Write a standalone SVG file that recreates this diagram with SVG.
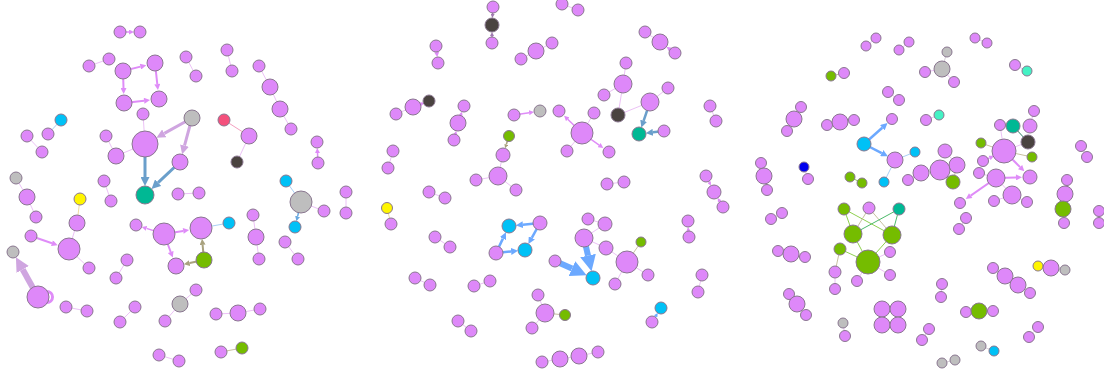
<svg xmlns="http://www.w3.org/2000/svg" width="1104" height="369" viewBox="0 0 1104 369">
<style>
circle{stroke:#8a7790;stroke-width:1}
.p{fill:#de88f9}.g{fill:#bebebe}.c{fill:#00c1f6}.t{fill:#00b894}.d{fill:#4a4340}.gr{fill:#75bc00}.y{fill:#fff500}.r{fill:#f4507c}.b{fill:#0000ee}.a{fill:#44f2c4}
line{fill:none}
.loop{fill:none;stroke:#df8cf8;stroke-width:3}
.e{stroke:#ecc2f6;stroke-width:1}.eb{stroke:#a8d0f5;stroke-width:1}.eo{stroke:#c8c0a0;stroke-width:1}.eg{stroke:#8fd050;stroke-width:1}.ey{stroke:#f0dca0;stroke-width:1}.egr{stroke:#d8d0d8;stroke-width:1}.edg{stroke:#2e7a60;stroke-width:1}.er{stroke:#f4a0c0;stroke-width:1}
.ap7{stroke:#df8cf8;stroke-width:2;marker-end:url(#mp7)}
.ap6{stroke:#df8cf8;stroke-width:1.5;marker-end:url(#mp6)}
.ap5{stroke:#df8cf8;stroke-width:1.5;marker-end:url(#mp5)}
.ap4{stroke:#df8cf8;stroke-width:1.5;marker-end:url(#mp4)}
.ag9{stroke:#cfa5e0;stroke-width:3;marker-end:url(#mg9)}
.ag14{stroke:#cfa5e0;stroke-width:6;marker-end:url(#mg14)}
.as9{stroke:#6a9fcb;stroke-width:3;marker-end:url(#ms9)}
.as7{stroke:#6a9fcb;stroke-width:2.5;marker-end:url(#ms7)}
.ab7{stroke:#6ca9ff;stroke-width:2.5;marker-end:url(#mb7)}
.ab16{stroke:#6ca9ff;stroke-width:6;marker-end:url(#mb16)}
.ab5{stroke:#6aa9e0;stroke-width:1.5;marker-end:url(#mb5)}
.ab4{stroke:#6ca9ff;stroke-width:1.5;marker-end:url(#mb4)}
.ao6{stroke:#a9a27e;stroke-width:2;marker-end:url(#mo6)}
.ao4{stroke:#a9a27e;stroke-width:1.5;marker-end:url(#mo4)}
.ad4{stroke:#a07ab0;stroke-width:1.5;marker-end:url(#md4)}
</style>
<defs>
<marker id="mp7" viewBox="0 0 10 10" refX="0" refY="5" markerWidth="7" markerHeight="6" markerUnits="userSpaceOnUse" orient="auto"><path d="M0,0L10,5L0,10z" fill="#df8cf8"/></marker>
<marker id="mp6" viewBox="0 0 10 10" refX="0" refY="5" markerWidth="6" markerHeight="5" markerUnits="userSpaceOnUse" orient="auto"><path d="M0,0L10,5L0,10z" fill="#df8cf8"/></marker>
<marker id="mp5" viewBox="0 0 10 10" refX="0" refY="5" markerWidth="5" markerHeight="5" markerUnits="userSpaceOnUse" orient="auto"><path d="M0,0L10,5L0,10z" fill="#df8cf8"/></marker>
<marker id="mp4" viewBox="0 0 10 10" refX="0" refY="5" markerWidth="4" markerHeight="4" markerUnits="userSpaceOnUse" orient="auto"><path d="M0,0L10,5L0,10z" fill="#df8cf8"/></marker>
<marker id="mg9" viewBox="0 0 10 10" refX="0" refY="5" markerWidth="9" markerHeight="9" markerUnits="userSpaceOnUse" orient="auto"><path d="M0,0L10,5L0,10z" fill="#cfa5e0"/></marker>
<marker id="mg14" viewBox="0 0 10 10" refX="0" refY="5" markerWidth="14" markerHeight="16" markerUnits="userSpaceOnUse" orient="auto"><path d="M0,0L10,5L0,10z" fill="#cfa5e0"/></marker>
<marker id="ms9" viewBox="0 0 10 10" refX="0" refY="5" markerWidth="9" markerHeight="9" markerUnits="userSpaceOnUse" orient="auto"><path d="M0,0L10,5L0,10z" fill="#6a9fcb"/></marker>
<marker id="ms7" viewBox="0 0 10 10" refX="0" refY="5" markerWidth="7" markerHeight="7" markerUnits="userSpaceOnUse" orient="auto"><path d="M0,0L10,5L0,10z" fill="#6a9fcb"/></marker>
<marker id="mb7" viewBox="0 0 10 10" refX="0" refY="5" markerWidth="7" markerHeight="7" markerUnits="userSpaceOnUse" orient="auto"><path d="M0,0L10,5L0,10z" fill="#6ca9ff"/></marker>
<marker id="mb16" viewBox="0 0 10 10" refX="0" refY="5" markerWidth="16" markerHeight="16" markerUnits="userSpaceOnUse" orient="auto"><path d="M0,0L10,5L0,10z" fill="#6ca9ff"/></marker>
<marker id="mb5" viewBox="0 0 10 10" refX="0" refY="5" markerWidth="5" markerHeight="5" markerUnits="userSpaceOnUse" orient="auto"><path d="M0,0L10,5L0,10z" fill="#6aa9e0"/></marker>
<marker id="mb4" viewBox="0 0 10 10" refX="0" refY="5" markerWidth="4" markerHeight="4" markerUnits="userSpaceOnUse" orient="auto"><path d="M0,0L10,5L0,10z" fill="#6ca9ff"/></marker>
<marker id="mo6" viewBox="0 0 10 10" refX="0" refY="5" markerWidth="6" markerHeight="6" markerUnits="userSpaceOnUse" orient="auto"><path d="M0,0L10,5L0,10z" fill="#a9a27e"/></marker>
<marker id="mo4" viewBox="0 0 10 10" refX="0" refY="5" markerWidth="4" markerHeight="4" markerUnits="userSpaceOnUse" orient="auto"><path d="M0,0L10,5L0,10z" fill="#a9a27e"/></marker>
<marker id="md4" viewBox="0 0 10 10" refX="0" refY="5" markerWidth="4" markerHeight="4" markerUnits="userSpaceOnUse" orient="auto"><path d="M0,0L10,5L0,10z" fill="#a07ab0"/></marker>
</defs>
<rect width="1104" height="369" fill="#ffffff"/>
<g id="connectors">
<line class="e" x1="89" y1="66" x2="109" y2="59"/>
<line class="e" x1="143" y1="114" x2="145" y2="144"/>
<line class="e" x1="186" y1="57" x2="196" y2="76"/>
<line class="e" x1="227" y1="50" x2="232" y2="71"/>
<line class="e" x1="259" y1="66" x2="270" y2="87"/>
<line class="e" x1="270" y1="87" x2="280" y2="109"/>
<line class="e" x1="280" y1="109" x2="291" y2="129"/>
<line class="eb" x1="61" y1="120" x2="48" y2="134"/>
<line class="e" x1="27" y1="136" x2="42" y2="152"/>
<line class="er" x1="224" y1="120" x2="249" y2="136"/>
<line class="e" x1="249" y1="136" x2="237" y2="162"/>
<line class="e" x1="106" y1="136" x2="116" y2="156"/>
<line class="e" x1="116" y1="156" x2="145" y2="144"/>
<line class="e" x1="16" y1="178" x2="27" y2="197"/>
<line class="e" x1="27" y1="197" x2="36" y2="217"/>
<line class="ey" x1="80" y1="199" x2="77" y2="223"/>
<line class="e" x1="104" y1="181" x2="111" y2="201"/>
<line class="e" x1="178" y1="194" x2="199" y2="193"/>
<line class="eb" x1="286" y1="181" x2="301" y2="202"/>
<line class="e" x1="301" y1="202" x2="324" y2="211"/>
<line class="e" x1="346" y1="192" x2="346" y2="213"/>
<line class="eb" x1="201" y1="228" x2="229" y2="223"/>
<line class="e" x1="253" y1="215" x2="256" y2="237"/>
<line class="e" x1="256" y1="237" x2="259" y2="259"/>
<line class="e" x1="285" y1="242" x2="298" y2="259"/>
<line class="e" x1="69" y1="249" x2="89" y2="268"/>
<line class="e" x1="77" y1="223" x2="69" y2="249"/>
<line class="e" x1="127" y1="260" x2="116" y2="278"/>
<line class="e" x1="66" y1="307" x2="87" y2="311"/>
<line class="e" x1="135" y1="307" x2="120" y2="322"/>
<line class="e" x1="180" y1="304" x2="196" y2="290"/>
<line class="e" x1="180" y1="304" x2="165" y2="321"/>
<line class="e" x1="216" y1="314" x2="238" y2="313"/>
<line class="e" x1="238" y1="313" x2="260" y2="309"/>
<line class="e" x1="159" y1="355" x2="179" y2="361"/>
<line class="eo" x1="221" y1="352" x2="242" y2="348"/>
<line class="ap5" x1="120" y1="32" x2="129" y2="32"/>
<line class="ap7" x1="123" y1="71" x2="140.5" y2="66.6"/>
<line class="ap7" x1="123" y1="71" x2="123.5" y2="88"/>
<line class="ap7" x1="124" y1="103" x2="144.1" y2="100.7"/>
<line class="ap7" x1="155" y1="63" x2="157.3" y2="84.1"/>
<line class="ag9" x1="192" y1="118" x2="164.3" y2="133.4"/>
<line class="ag9" x1="192" y1="118" x2="184.5" y2="145.6"/>
<line class="as9" x1="145" y1="144" x2="145" y2="177"/>
<line class="as9" x1="180" y1="162" x2="158.1" y2="182.7"/>
<line class="ap5" x1="318" y1="163" x2="317.5" y2="153"/>
<line class="ab5" x1="301" y1="202" x2="297.6" y2="216.3"/>
<line class="ap5" x1="164" y1="234" x2="146.5" y2="228.4"/>
<line class="ap7" x1="164" y1="234" x2="183.2" y2="230.9"/>
<line class="ap7" x1="164" y1="234" x2="170.7" y2="252"/>
<line class="ao6" x1="204" y1="260" x2="202.6" y2="244.9"/>
<line class="ao6" x1="204" y1="260" x2="189.7" y2="263.1"/>
<line class="ap7" x1="31" y1="236" x2="52" y2="243.2"/>
<line class="ag14" x1="38" y1="297" x2="22.7" y2="269.5"/>
<path class="loop" d="M47,291.5 A5,5 0 1 1 47,302.5"/>
<line class="e" x1="562" y1="4" x2="578" y2="10"/>
<line class="e" x1="521" y1="59" x2="536" y2="51"/>
<line class="e" x1="536" y1="51" x2="552" y2="43"/>
<line class="e" x1="645" y1="32" x2="660" y2="42"/>
<line class="e" x1="626" y1="63" x2="623" y2="84"/>
<line class="e" x1="604" y1="95" x2="623" y2="84"/>
<line class="e" x1="623" y1="84" x2="618" y2="115"/>
<line class="e" x1="618" y1="115" x2="650" y2="102"/>
<line class="e" x1="650" y1="102" x2="668" y2="88"/>
<line class="e" x1="396" y1="114" x2="413" y2="107"/>
<line class="e" x1="582" y1="133" x2="594" y2="113"/>
<line class="e" x1="582" y1="133" x2="567" y2="151"/>
<line class="e" x1="710" y1="106" x2="716" y2="121"/>
<line class="e" x1="393" y1="151" x2="388" y2="168"/>
<line class="e" x1="503" y1="155" x2="498" y2="176"/>
<line class="e" x1="498" y1="176" x2="476" y2="180"/>
<line class="e" x1="498" y1="176" x2="516" y2="190"/>
<line class="e" x1="607" y1="184" x2="624" y2="182"/>
<line class="e" x1="429" y1="192" x2="445" y2="198"/>
<line class="ey" x1="387" y1="208" x2="391" y2="224"/>
<line class="e" x1="435" y1="237" x2="450" y2="247"/>
<line class="e" x1="588" y1="219" x2="605" y2="224"/>
<line class="e" x1="605" y1="224" x2="584" y2="238"/>
<line class="e" x1="584" y1="238" x2="606" y2="248"/>
<line class="e" x1="606" y1="248" x2="627" y2="262"/>
<line class="eo" x1="627" y1="262" x2="641" y2="242"/>
<line class="e" x1="627" y1="262" x2="648" y2="275"/>
<line class="e" x1="627" y1="262" x2="615" y2="284"/>
<line class="e" x1="415" y1="278" x2="430" y2="285"/>
<line class="e" x1="474" y1="286" x2="490" y2="281"/>
<line class="e" x1="702" y1="275" x2="698" y2="292"/>
<line class="e" x1="538" y1="295" x2="545" y2="313"/>
<line class="eo" x1="545" y1="313" x2="565" y2="315"/>
<line class="e" x1="545" y1="313" x2="532" y2="328"/>
<line class="e" x1="458" y1="321" x2="471" y2="331"/>
<line class="e" x1="542" y1="362" x2="560" y2="359"/>
<line class="e" x1="560" y1="359" x2="579" y2="356"/>
<line class="e" x1="579" y1="356" x2="598" y2="352"/>
<line class="ad4" x1="493" y1="7" x2="492.6" y2="14"/>
<line class="ad4" x1="492" y1="43" x2="492" y2="36"/>
<line class="ap5" x1="436" y1="46" x2="436.7" y2="52.1"/>
<line class="ap5" x1="675" y1="53" x2="670.5" y2="49.7"/>
<line class="as7" x1="650" y1="102" x2="643.6" y2="120.8"/>
<line class="as7" x1="664" y1="131" x2="652.9" y2="132.3"/>
<line class="ap4" x1="413" y1="107" x2="420.6" y2="104.2"/>
<line class="ap4" x1="458" y1="123" x2="460.7" y2="115.4"/>
<line class="ap4" x1="454" y1="140" x2="455.3" y2="134.7"/>
<line class="ap5" x1="514" y1="115" x2="529.1" y2="112.7"/>
<line class="ap6" x1="582" y1="133" x2="567.7" y2="119.3"/>
<line class="ap6" x1="582" y1="133" x2="599.2" y2="145.1"/>
<line class="ao4" x1="509" y1="136" x2="506.3" y2="144.5"/>
<line class="ap4" x1="706" y1="176" x2="709.1" y2="182.2"/>
<line class="ap4" x1="723" y1="207" x2="719.7" y2="201.4"/>
<line class="ab7" x1="540" y1="223" x2="522.9" y2="224.7"/>
<line class="ab7" x1="540" y1="223" x2="531.8" y2="237.8"/>
<line class="ab7" x1="496" y1="253" x2="502.9" y2="238.6"/>
<line class="ab7" x1="496" y1="253" x2="511.1" y2="251.4"/>
<line class="ab16" x1="555" y1="261" x2="572" y2="268.6"/>
<line class="ab16" x1="584" y1="238" x2="588" y2="255.6"/>
<line class="ap4" x1="689" y1="237" x2="688.4" y2="231"/>
<line class="ab4" x1="652" y1="322" x2="655.6" y2="316.4"/>
<line class="e" x1="866" y1="46" x2="876" y2="38"/>
<line class="e" x1="899" y1="50" x2="909" y2="42"/>
<line class="e" x1="975" y1="38" x2="987" y2="43"/>
<line class="egr" x1="947" y1="52" x2="942" y2="69"/>
<line class="e" x1="942" y1="69" x2="925" y2="72"/>
<line class="e" x1="942" y1="69" x2="954" y2="82"/>
<line class="eo" x1="831" y1="76" x2="844" y2="73"/>
<line class="e" x1="1015" y1="65" x2="1027" y2="71"/>
<line class="e" x1="888" y1="92" x2="899" y2="100"/>
<line class="e" x1="801" y1="107" x2="794" y2="119"/>
<line class="e" x1="794" y1="119" x2="787" y2="131"/>
<line class="e" x1="827" y1="125" x2="840" y2="122"/>
<line class="e" x1="840" y1="122" x2="854" y2="120"/>
<line class="e" x1="926" y1="120" x2="939" y2="115"/>
<line class="eb" x1="895" y1="160" x2="915" y2="152"/>
<line class="eb" x1="895" y1="160" x2="884" y2="182"/>
<line class="e" x1="1034" y1="111" x2="1030" y2="126"/>
<line class="edg" x1="1013" y1="126" x2="1028" y2="142"/>
<line class="e" x1="1028" y1="142" x2="1004" y2="151"/>
<line class="e" x1="1004" y1="151" x2="1000" y2="125"/>
<line class="eo" x1="1004" y1="151" x2="981" y2="143"/>
<line class="eo" x1="1004" y1="151" x2="1032" y2="157"/>
<line class="e" x1="979" y1="173" x2="996" y2="178"/>
<line class="e" x1="996" y1="178" x2="1012" y2="195"/>
<line class="e" x1="994" y1="201" x2="1012" y2="195"/>
<line class="e" x1="1012" y1="195" x2="1027" y2="202"/>
<line class="e" x1="1081" y1="146" x2="1087" y2="157"/>
<line class="e" x1="945" y1="151" x2="957" y2="165"/>
<line class="e" x1="957" y1="165" x2="940" y2="170"/>
<line class="e" x1="940" y1="170" x2="921" y2="173"/>
<line class="e" x1="921" y1="173" x2="908" y2="180"/>
<line class="eo" x1="957" y1="165" x2="953" y2="182"/>
<line class="e" x1="804" y1="167" x2="808" y2="179"/>
<line class="e" x1="761" y1="163" x2="764" y2="176"/>
<line class="e" x1="764" y1="176" x2="767" y2="190"/>
<line class="eg" x1="850" y1="177" x2="862" y2="183"/>
<line class="e" x1="1067" y1="180" x2="1065" y2="194"/>
<line class="eo" x1="1065" y1="194" x2="1063" y2="209"/>
<line class="eo" x1="1063" y1="209" x2="1064" y2="223"/>
<line class="e" x1="1099" y1="211" x2="1099" y2="223"/>
<line class="e" x1="771" y1="219" x2="782" y2="213"/>
<line class="eg" x1="844" y1="209" x2="853" y2="234"/>
<line class="eg" x1="844" y1="209" x2="892" y2="235"/>
<line class="eo" x1="869" y1="208" x2="853" y2="234"/>
<line class="eo" x1="869" y1="208" x2="892" y2="235"/>
<line class="eg" x1="899" y1="209" x2="853" y2="234" style="stroke:#4cba6a"/>
<line class="eg" x1="899" y1="209" x2="892" y2="235" style="stroke:#4cba6a"/>
<line class="eg" x1="853" y1="234" x2="868" y2="262"/>
<line class="eg" x1="892" y1="235" x2="868" y2="262"/>
<line class="eg" x1="840" y1="249" x2="868" y2="262"/>
<line class="eo" x1="840" y1="249" x2="835" y2="272"/>
<line class="e" x1="835" y1="272" x2="835" y2="289"/>
<line class="e" x1="868" y1="262" x2="890" y2="252"/>
<line class="e" x1="868" y1="262" x2="890" y2="275"/>
<line class="e" x1="868" y1="262" x2="857" y2="281"/>
<line class="e" x1="778" y1="251" x2="791" y2="254"/>
<line class="e" x1="791" y1="254" x2="805" y2="257"/>
<line class="e" x1="789" y1="294" x2="797" y2="304"/>
<line class="e" x1="797" y1="304" x2="806" y2="315"/>
<line class="e" x1="843" y1="323" x2="845" y2="336"/>
<line class="e" x1="882" y1="309" x2="882" y2="325"/>
<line class="e" x1="898" y1="309" x2="898" y2="325"/>
<line class="e" x1="966" y1="218" x2="959" y2="229"/>
<line class="e" x1="993" y1="268" x2="1005" y2="276"/>
<line class="e" x1="1005" y1="276" x2="1018" y2="285"/>
<line class="e" x1="1018" y1="285" x2="1030" y2="293"/>
<line class="ey" x1="1038" y1="266" x2="1051" y2="268"/>
<line class="e" x1="1051" y1="268" x2="1065" y2="270"/>
<line class="e" x1="942" y1="284" x2="941" y2="297"/>
<line class="eo" x1="966" y1="312" x2="979" y2="311"/>
<line class="eo" x1="979" y1="311" x2="993" y2="311"/>
<line class="e" x1="929" y1="329" x2="922" y2="340"/>
<line class="e" x1="1038" y1="327" x2="1029" y2="337"/>
<line class="egr" x1="981" y1="346" x2="994" y2="351"/>
<line class="egr" x1="942" y1="363" x2="955" y2="360"/>
<line class="ab7" x1="864" y1="144" x2="882.3" y2="127.7"/>
<line class="ab7" x1="864" y1="144" x2="881.7" y2="153.1"/>
<line class="ap7" x1="1004" y1="151" x2="1020.1" y2="167.1"/>
<line class="ap7" x1="996" y1="178" x2="1016" y2="177.4"/>
<line class="ap7" x1="996" y1="178" x2="970.7" y2="195.6"/>
<line class="ap5" x1="983" y1="161" x2="989.6" y2="157.9"/>
</g>
<g id="L1"><circle class="p" cx="120" cy="32" r="6"/></g>
<g id="L2"><circle class="p" cx="140" cy="32" r="6"/></g>
<g id="L3"><circle class="p" cx="89" cy="66" r="6"/></g>
<g id="L4"><circle class="p" cx="109" cy="59" r="6"/></g>
<g id="L5"><circle class="p" cx="123" cy="71" r="8"/></g>
<g id="L6"><circle class="p" cx="155" cy="63" r="8"/></g>
<g id="L7"><circle class="p" cx="124" cy="103" r="8"/></g>
<g id="L8"><circle class="p" cx="159" cy="99" r="8"/></g>
<g id="L9"><circle class="p" cx="143" cy="114" r="6"/></g>
<g id="L10"><circle class="p" cx="145" cy="144" r="13"/></g>
<g id="L11"><circle class="p" cx="186" cy="57" r="6"/></g>
<g id="L12"><circle class="p" cx="196" cy="76" r="6"/></g>
<g id="L13"><circle class="p" cx="227" cy="50" r="6"/></g>
<g id="L14"><circle class="p" cx="232" cy="71" r="6"/></g>
<g id="L15"><circle class="p" cx="259" cy="66" r="6"/></g>
<g id="L16"><circle class="p" cx="270" cy="87" r="8"/></g>
<g id="L17"><circle class="p" cx="280" cy="109" r="8"/></g>
<g id="L18"><circle class="p" cx="291" cy="129" r="6"/></g>
<g id="L19"><circle class="c" cx="61" cy="120" r="6"/></g>
<g id="L20"><circle class="p" cx="48" cy="134" r="6"/></g>
<g id="L21"><circle class="p" cx="27" cy="136" r="6"/></g>
<g id="L22"><circle class="p" cx="42" cy="152" r="6"/></g>
<g id="L23"><circle class="g" cx="192" cy="118" r="8"/></g>
<g id="L24"><circle class="r" cx="224" cy="120" r="6"/></g>
<g id="L25"><circle class="p" cx="249" cy="136" r="8"/></g>
<g id="L26"><circle class="d" cx="237" cy="162" r="6"/></g>
<g id="L27"><circle class="p" cx="106" cy="136" r="6"/></g>
<g id="L28"><circle class="p" cx="116" cy="156" r="8"/></g>
<g id="L29"><circle class="p" cx="317" cy="142" r="6"/></g>
<g id="L30"><circle class="p" cx="318" cy="163" r="6"/></g>
<g id="L31"><circle class="p" cx="180" cy="162" r="8"/></g>
<g id="L32"><circle class="g" cx="16" cy="178" r="6"/></g>
<g id="L33"><circle class="p" cx="27" cy="197" r="8"/></g>
<g id="L34"><circle class="p" cx="36" cy="217" r="6"/></g>
<g id="L35"><circle class="y" cx="80" cy="199" r="6"/></g>
<g id="L36"><circle class="p" cx="77" cy="223" r="8"/></g>
<g id="L37"><circle class="p" cx="104" cy="181" r="6"/></g>
<g id="L38"><circle class="p" cx="111" cy="201" r="6"/></g>
<g id="L39"><circle class="t" cx="145" cy="195" r="9"/></g>
<g id="L40"><circle class="p" cx="178" cy="194" r="6"/></g>
<g id="L41"><circle class="p" cx="199" cy="193" r="6"/></g>
<g id="L42"><circle class="c" cx="286" cy="181" r="6"/></g>
<g id="L43"><circle class="g" cx="301" cy="202" r="11"/></g>
<g id="L44"><circle class="p" cx="324" cy="211" r="6"/></g>
<g id="L45"><circle class="c" cx="295" cy="227" r="6"/></g>
<g id="L46"><circle class="p" cx="346" cy="192" r="6"/></g>
<g id="L47"><circle class="p" cx="346" cy="213" r="6"/></g>
<g id="L48"><circle class="p" cx="136" cy="225" r="6"/></g>
<g id="L49"><circle class="p" cx="164" cy="234" r="11"/></g>
<g id="L50"><circle class="p" cx="201" cy="228" r="11"/></g>
<g id="L51"><circle class="c" cx="229" cy="223" r="6"/></g>
<g id="L52"><circle class="p" cx="176" cy="266" r="8"/></g>
<g id="L53"><circle class="gr" cx="204" cy="260" r="8"/></g>
<g id="L54"><circle class="p" cx="253" cy="215" r="6"/></g>
<g id="L55"><circle class="p" cx="256" cy="237" r="8"/></g>
<g id="L56"><circle class="p" cx="259" cy="259" r="6"/></g>
<g id="L57"><circle class="p" cx="285" cy="242" r="6"/></g>
<g id="L58"><circle class="p" cx="298" cy="259" r="6"/></g>
<g id="L59"><circle class="p" cx="31" cy="236" r="6"/></g>
<g id="L60"><circle class="p" cx="69" cy="249" r="11"/></g>
<g id="L61"><circle class="p" cx="89" cy="268" r="6"/></g>
<g id="L62"><circle class="g" cx="13" cy="252" r="6"/></g>
<g id="L63"><circle class="p" cx="38" cy="297" r="11"/></g>
<g id="L64"><circle class="p" cx="127" cy="260" r="6"/></g>
<g id="L65"><circle class="p" cx="116" cy="278" r="6"/></g>
<g id="L66"><circle class="p" cx="66" cy="307" r="6"/></g>
<g id="L67"><circle class="p" cx="87" cy="311" r="6"/></g>
<g id="L68"><circle class="p" cx="135" cy="307" r="6"/></g>
<g id="L69"><circle class="p" cx="120" cy="322" r="6"/></g>
<g id="L70"><circle class="g" cx="180" cy="304" r="8"/></g>
<g id="L71"><circle class="p" cx="196" cy="290" r="6"/></g>
<g id="L72"><circle class="p" cx="165" cy="321" r="6"/></g>
<g id="L73"><circle class="p" cx="216" cy="314" r="6"/></g>
<g id="L74"><circle class="p" cx="238" cy="313" r="8"/></g>
<g id="L75"><circle class="p" cx="260" cy="309" r="6"/></g>
<g id="L76"><circle class="p" cx="159" cy="355" r="6"/></g>
<g id="L77"><circle class="p" cx="179" cy="361" r="6"/></g>
<g id="L78"><circle class="p" cx="221" cy="352" r="6"/></g>
<g id="L79"><circle class="gr" cx="242" cy="348" r="6"/></g>
<g id="M1"><circle class="p" cx="493" cy="7" r="6"/></g>
<g id="M2"><circle class="d" cx="492" cy="25" r="7"/></g>
<g id="M3"><circle class="p" cx="492" cy="43" r="6"/></g>
<g id="M4"><circle class="p" cx="562" cy="4" r="6"/></g>
<g id="M5"><circle class="p" cx="578" cy="10" r="6"/></g>
<g id="M6"><circle class="p" cx="436" cy="46" r="6"/></g>
<g id="M7"><circle class="p" cx="438" cy="63" r="6"/></g>
<g id="M8"><circle class="p" cx="521" cy="59" r="6"/></g>
<g id="M9"><circle class="p" cx="536" cy="51" r="8"/></g>
<g id="M10"><circle class="p" cx="552" cy="43" r="6"/></g>
<g id="M11"><circle class="p" cx="645" cy="32" r="6"/></g>
<g id="M12"><circle class="p" cx="660" cy="42" r="8"/></g>
<g id="M13"><circle class="p" cx="675" cy="53" r="6"/></g>
<g id="M14"><circle class="p" cx="626" cy="63" r="6"/></g>
<g id="M15"><circle class="p" cx="623" cy="84" r="9"/></g>
<g id="M16"><circle class="p" cx="604" cy="95" r="6"/></g>
<g id="M17"><circle class="d" cx="618" cy="115" r="7"/></g>
<g id="M18"><circle class="p" cx="650" cy="102" r="9"/></g>
<g id="M19"><circle class="p" cx="668" cy="88" r="6"/></g>
<g id="M20"><circle class="t" cx="639" cy="134" r="7"/></g>
<g id="M21"><circle class="p" cx="664" cy="131" r="6"/></g>
<g id="M22"><circle class="d" cx="429" cy="101" r="6"/></g>
<g id="M23"><circle class="p" cx="413" cy="107" r="8"/></g>
<g id="M24"><circle class="p" cx="396" cy="114" r="6"/></g>
<g id="M25"><circle class="p" cx="464" cy="106" r="6"/></g>
<g id="M26"><circle class="p" cx="458" cy="123" r="8"/></g>
<g id="M27"><circle class="p" cx="454" cy="140" r="6"/></g>
<g id="M28"><circle class="p" cx="514" cy="115" r="6"/></g>
<g id="M29"><circle class="g" cx="540" cy="111" r="6"/></g>
<g id="M30"><circle class="p" cx="559" cy="111" r="6"/></g>
<g id="M31"><circle class="p" cx="594" cy="113" r="6"/></g>
<g id="M32"><circle class="p" cx="582" cy="133" r="11"/></g>
<g id="M33"><circle class="p" cx="567" cy="151" r="6"/></g>
<g id="M34"><circle class="p" cx="609" cy="152" r="6"/></g>
<g id="M35"><circle class="p" cx="710" cy="106" r="6"/></g>
<g id="M36"><circle class="p" cx="716" cy="121" r="6"/></g>
<g id="M37"><circle class="p" cx="393" cy="151" r="6"/></g>
<g id="M38"><circle class="p" cx="388" cy="168" r="6"/></g>
<g id="M39"><circle class="gr" cx="509" cy="136" r="5.5"/></g>
<g id="M40"><circle class="p" cx="503" cy="155" r="7"/></g>
<g id="M41"><circle class="p" cx="498" cy="176" r="9"/></g>
<g id="M42"><circle class="p" cx="476" cy="180" r="6"/></g>
<g id="M43"><circle class="p" cx="516" cy="190" r="6"/></g>
<g id="M44"><circle class="p" cx="607" cy="184" r="6"/></g>
<g id="M45"><circle class="p" cx="624" cy="182" r="6"/></g>
<g id="M46"><circle class="p" cx="706" cy="176" r="6"/></g>
<g id="M47"><circle class="p" cx="714" cy="192" r="7"/></g>
<g id="M48"><circle class="p" cx="723" cy="207" r="6"/></g>
<g id="M49"><circle class="p" cx="429" cy="192" r="6"/></g>
<g id="M50"><circle class="p" cx="445" cy="198" r="6"/></g>
<g id="M51"><circle class="y" cx="387" cy="208" r="5.5"/></g>
<g id="M52"><circle class="p" cx="391" cy="224" r="6"/></g>
<g id="M53"><circle class="p" cx="435" cy="237" r="6"/></g>
<g id="M54"><circle class="p" cx="450" cy="247" r="6"/></g>
<g id="M55"><circle class="c" cx="509" cy="226" r="7"/></g>
<g id="M56"><circle class="p" cx="540" cy="223" r="7"/></g>
<g id="M57"><circle class="c" cx="525" cy="250" r="7"/></g>
<g id="M58"><circle class="p" cx="496" cy="253" r="7"/></g>
<g id="M59"><circle class="p" cx="588" cy="219" r="6"/></g>
<g id="M60"><circle class="p" cx="605" cy="224" r="7"/></g>
<g id="M61"><circle class="p" cx="584" cy="238" r="9"/></g>
<g id="M62"><circle class="p" cx="606" cy="248" r="7"/></g>
<g id="M63"><circle class="p" cx="627" cy="262" r="11"/></g>
<g id="M64"><circle class="gr" cx="641" cy="242" r="5"/></g>
<g id="M65"><circle class="p" cx="648" cy="275" r="6"/></g>
<g id="M66"><circle class="p" cx="615" cy="284" r="6"/></g>
<g id="M67"><circle class="c" cx="593" cy="278" r="7"/></g>
<g id="M68"><circle class="p" cx="555" cy="261" r="6"/></g>
<g id="M69"><circle class="p" cx="415" cy="278" r="6"/></g>
<g id="M70"><circle class="p" cx="430" cy="285" r="6"/></g>
<g id="M71"><circle class="p" cx="474" cy="286" r="6"/></g>
<g id="M72"><circle class="p" cx="490" cy="281" r="6"/></g>
<g id="M73"><circle class="p" cx="702" cy="275" r="6"/></g>
<g id="M74"><circle class="p" cx="698" cy="292" r="6"/></g>
<g id="M75"><circle class="p" cx="688" cy="221" r="6"/></g>
<g id="M76"><circle class="p" cx="689" cy="237" r="6"/></g>
<g id="M77"><circle class="p" cx="538" cy="295" r="6"/></g>
<g id="M78"><circle class="p" cx="545" cy="313" r="9"/></g>
<g id="M79"><circle class="gr" cx="565" cy="315" r="5.5"/></g>
<g id="M80"><circle class="p" cx="532" cy="328" r="6"/></g>
<g id="M81"><circle class="c" cx="661" cy="308" r="6"/></g>
<g id="M82"><circle class="p" cx="652" cy="322" r="6"/></g>
<g id="M83"><circle class="p" cx="458" cy="321" r="6"/></g>
<g id="M84"><circle class="p" cx="471" cy="331" r="6"/></g>
<g id="M85"><circle class="p" cx="542" cy="362" r="6"/></g>
<g id="M86"><circle class="p" cx="560" cy="359" r="8"/></g>
<g id="M87"><circle class="p" cx="579" cy="356" r="8"/></g>
<g id="M88"><circle class="p" cx="598" cy="352" r="6"/></g>
<g id="R1"><circle class="p" cx="866" cy="46" r="5"/></g>
<g id="R2"><circle class="p" cx="876" cy="38" r="5"/></g>
<g id="R3"><circle class="p" cx="899" cy="50" r="5"/></g>
<g id="R4"><circle class="p" cx="909" cy="42" r="5"/></g>
<g id="R5"><circle class="p" cx="975" cy="38" r="5"/></g>
<g id="R6"><circle class="p" cx="987" cy="43" r="5"/></g>
<g id="R7"><circle class="g" cx="947" cy="52" r="5"/></g>
<g id="R8"><circle class="g" cx="942" cy="69" r="8"/></g>
<g id="R9"><circle class="p" cx="925" cy="72" r="5.5"/></g>
<g id="R10"><circle class="p" cx="954" cy="82" r="5.5"/></g>
<g id="R11"><circle class="gr" cx="831" cy="76" r="5"/></g>
<g id="R12"><circle class="p" cx="844" cy="73" r="5.5"/></g>
<g id="R13"><circle class="p" cx="1015" cy="65" r="5.5"/></g>
<g id="R14"><circle class="a" cx="1027" cy="71" r="5"/></g>
<g id="R15"><circle class="p" cx="888" cy="92" r="5.5"/></g>
<g id="R16"><circle class="p" cx="899" cy="100" r="5.5"/></g>
<g id="R17"><circle class="p" cx="801" cy="107" r="5.5"/></g>
<g id="R18"><circle class="p" cx="794" cy="119" r="8"/></g>
<g id="R19"><circle class="p" cx="787" cy="131" r="5.5"/></g>
<g id="R20"><circle class="p" cx="827" cy="125" r="5.5"/></g>
<g id="R21"><circle class="p" cx="840" cy="122" r="8"/></g>
<g id="R22"><circle class="p" cx="854" cy="120" r="5.5"/></g>
<g id="R23"><circle class="p" cx="926" cy="120" r="5.5"/></g>
<g id="R24"><circle class="a" cx="939" cy="115" r="5"/></g>
<g id="R25"><circle class="c" cx="864" cy="144" r="7"/></g>
<g id="R26"><circle class="p" cx="892" cy="119" r="5.5"/></g>
<g id="R27"><circle class="p" cx="895" cy="160" r="8"/></g>
<g id="R28"><circle class="c" cx="915" cy="152" r="5"/></g>
<g id="R29"><circle class="c" cx="884" cy="182" r="5"/></g>
<g id="R30"><circle class="p" cx="1034" cy="111" r="5.5"/></g>
<g id="R31"><circle class="t" cx="1013" cy="126" r="7"/></g>
<g id="R32"><circle class="p" cx="1030" cy="126" r="7"/></g>
<g id="R33"><circle class="d" cx="1028" cy="142" r="7"/></g>
<g id="R34"><circle class="p" cx="1004" cy="151" r="12"/></g>
<g id="R35"><circle class="p" cx="1000" cy="125" r="5.5"/></g>
<g id="R36"><circle class="gr" cx="981" cy="143" r="5"/></g>
<g id="R37"><circle class="gr" cx="1032" cy="157" r="5"/></g>
<g id="R38"><circle class="p" cx="983" cy="161" r="5.5"/></g>
<g id="R39"><circle class="p" cx="979" cy="173" r="5.5"/></g>
<g id="R40"><circle class="p" cx="996" cy="178" r="9"/></g>
<g id="R41"><circle class="p" cx="1030" cy="177" r="7"/></g>
<g id="R42"><circle class="p" cx="1081" cy="146" r="5.5"/></g>
<g id="R43"><circle class="p" cx="1087" cy="157" r="5.5"/></g>
<g id="R44"><circle class="p" cx="945" cy="151" r="7"/></g>
<g id="R45"><circle class="p" cx="957" cy="165" r="8"/></g>
<g id="R46"><circle class="p" cx="940" cy="170" r="10"/></g>
<g id="R47"><circle class="p" cx="921" cy="173" r="8"/></g>
<g id="R48"><circle class="p" cx="908" cy="180" r="5.5"/></g>
<g id="R49"><circle class="gr" cx="953" cy="182" r="7"/></g>
<g id="R50"><circle class="b" cx="804" cy="167" r="5"/></g>
<g id="R51"><circle class="p" cx="808" cy="179" r="5.5"/></g>
<g id="R52"><circle class="p" cx="761" cy="163" r="5.5"/></g>
<g id="R53"><circle class="p" cx="764" cy="176" r="8"/></g>
<g id="R54"><circle class="p" cx="767" cy="190" r="5.5"/></g>
<g id="R55"><circle class="gr" cx="850" cy="177" r="5"/></g>
<g id="R56"><circle class="gr" cx="862" cy="183" r="5"/></g>
<g id="R57"><circle class="p" cx="1067" cy="180" r="5.5"/></g>
<g id="R58"><circle class="p" cx="1065" cy="194" r="8"/></g>
<g id="R59"><circle class="gr" cx="1063" cy="209" r="8"/></g>
<g id="R60"><circle class="p" cx="1064" cy="223" r="5.5"/></g>
<g id="R61"><circle class="p" cx="1099" cy="211" r="5.5"/></g>
<g id="R62"><circle class="p" cx="1099" cy="223" r="5.5"/></g>
<g id="R63"><circle class="p" cx="771" cy="219" r="5.5"/></g>
<g id="R64"><circle class="p" cx="782" cy="213" r="5.5"/></g>
<g id="R65"><circle class="gr" cx="844" cy="209" r="6"/></g>
<g id="R66"><circle class="p" cx="869" cy="208" r="6"/></g>
<g id="R67"><circle class="t" cx="899" cy="209" r="6"/></g>
<g id="R68"><circle class="gr" cx="853" cy="234" r="9"/></g>
<g id="R69"><circle class="gr" cx="892" cy="235" r="9"/></g>
<g id="R70"><circle class="gr" cx="840" cy="249" r="6"/></g>
<g id="R71"><circle class="gr" cx="868" cy="262" r="12"/></g>
<g id="R72"><circle class="p" cx="890" cy="252" r="5.5"/></g>
<g id="R73"><circle class="p" cx="890" cy="275" r="5.5"/></g>
<g id="R74"><circle class="p" cx="857" cy="281" r="5.5"/></g>
<g id="R75"><circle class="p" cx="835" cy="272" r="6"/></g>
<g id="R76"><circle class="p" cx="835" cy="289" r="5.5"/></g>
<g id="R77"><circle class="p" cx="778" cy="251" r="5.5"/></g>
<g id="R78"><circle class="p" cx="791" cy="254" r="8"/></g>
<g id="R79"><circle class="p" cx="805" cy="257" r="5.5"/></g>
<g id="R80"><circle class="p" cx="789" cy="294" r="5.5"/></g>
<g id="R81"><circle class="p" cx="797" cy="304" r="8"/></g>
<g id="R82"><circle class="p" cx="806" cy="315" r="5.5"/></g>
<g id="R83"><circle class="g" cx="843" cy="323" r="5"/></g>
<g id="R84"><circle class="p" cx="845" cy="336" r="5.5"/></g>
<g id="R85"><circle class="p" cx="882" cy="309" r="8"/></g>
<g id="R86"><circle class="p" cx="898" cy="309" r="8"/></g>
<g id="R87"><circle class="p" cx="882" cy="325" r="8"/></g>
<g id="R88"><circle class="p" cx="898" cy="325" r="8"/></g>
<g id="R89"><circle class="p" cx="960" cy="203" r="5.5"/></g>
<g id="R90"><circle class="p" cx="994" cy="201" r="5.5"/></g>
<g id="R91"><circle class="p" cx="1012" cy="195" r="9"/></g>
<g id="R92"><circle class="p" cx="1027" cy="202" r="5.5"/></g>
<g id="R93"><circle class="p" cx="966" cy="218" r="5.5"/></g>
<g id="R94"><circle class="p" cx="959" cy="229" r="5.5"/></g>
<g id="R95"><circle class="p" cx="993" cy="268" r="5.5"/></g>
<g id="R96"><circle class="p" cx="1005" cy="276" r="8"/></g>
<g id="R97"><circle class="p" cx="1018" cy="285" r="8"/></g>
<g id="R98"><circle class="p" cx="1030" cy="293" r="5.5"/></g>
<g id="R99"><circle class="y" cx="1038" cy="266" r="5"/></g>
<g id="R100"><circle class="p" cx="1051" cy="268" r="8"/></g>
<g id="R101"><circle class="g" cx="1065" cy="270" r="5"/></g>
<g id="R102"><circle class="p" cx="942" cy="284" r="5.5"/></g>
<g id="R103"><circle class="p" cx="941" cy="297" r="5.5"/></g>
<g id="R104"><circle class="p" cx="966" cy="312" r="5.5"/></g>
<g id="R105"><circle class="gr" cx="979" cy="311" r="8"/></g>
<g id="R106"><circle class="p" cx="993" cy="311" r="5.5"/></g>
<g id="R107"><circle class="p" cx="929" cy="329" r="5.5"/></g>
<g id="R108"><circle class="p" cx="922" cy="340" r="5.5"/></g>
<g id="R109"><circle class="p" cx="1038" cy="327" r="5.5"/></g>
<g id="R110"><circle class="p" cx="1029" cy="337" r="5.5"/></g>
<g id="R111"><circle class="g" cx="981" cy="346" r="5"/></g>
<g id="R112"><circle class="c" cx="994" cy="351" r="5"/></g>
<g id="R113"><circle class="g" cx="942" cy="363" r="5"/></g>
<g id="R114"><circle class="g" cx="955" cy="360" r="5"/></g>
</svg>
